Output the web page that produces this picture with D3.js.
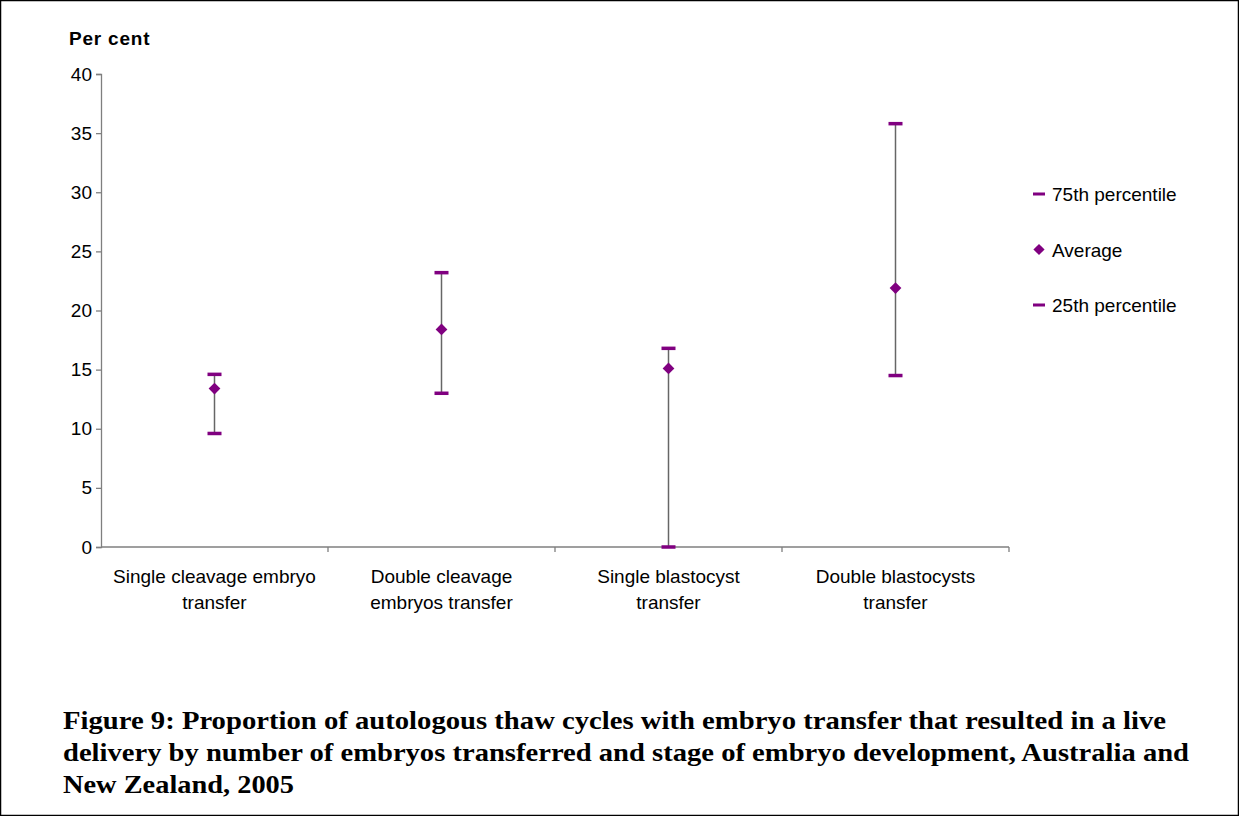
<!DOCTYPE html>
<html>
<head>
<meta charset="utf-8">
<script src="https://cdn.jsdelivr.net/npm/d3@7"></script>
<style>
  body { margin: 0; background: #fff; }
  svg { display: block; }
</style>
</head>
<body>
<script>
// chart data
var categories = [
  ["Single cleavage embryo", "transfer"],
  ["Double cleavage", "embryos transfer"],
  ["Single blastocyst", "transfer"],
  ["Double blastocysts", "transfer"]
];
var p75 = [14.6, 23.2, 16.8, 35.8];
var average = [13.4, 18.4, 15.1, 21.9];
var p25 = [9.6, 13.0, 0.0, 14.5];
var yTicks = [0, 5, 10, 15, 20, 25, 30, 35, 40];
var legendLabels = ["75th percentile", "Average", "25th percentile"];
var titleLines = [
  "Figure 9: Proportion of autologous thaw cycles with embryo transfer that resulted in a live",
  "delivery by number of embryos transferred and stage of embryo development, Australia and",
  "New Zealand, 2005"
];
var titleWidths = [1103, 1126, 231];

var svgWidth = 1239;
var svgHeight = 816;
var purple = "#800080";
var axisGrey = "#7f7f7f";
var sans = "Liberation Sans, Arial, sans-serif";

var margin = { top: 74, left: 101 };
var width = 908;
var height = 473;

var svg = d3.select("body")
  .append("svg")
  .attr("width", svgWidth)
  .attr("height", svgHeight);

// outer frame
svg.append("rect")
  .attr("x", 0.5).attr("y", 0.5)
  .attr("width", svgWidth - 1).attr("height", svgHeight - 1)
  .attr("fill", "none").attr("stroke", "#000").attr("stroke-width", 1.5);

var chart = svg.append("g")
  .attr("transform", `translate(${margin.left}, ${margin.top})`);

var idx = categories.map((d, i) => i);
var x = d3.scaleBand().domain(idx).range([0, width]);
var y = d3.scaleLinear().domain([0, 40]).range([height, 0]);

// y axis
var yAxis = d3.axisLeft(y).tickValues(yTicks).tickSize(5).tickPadding(4);
var yg = chart.append("g").call(yAxis);
yg.select(".domain").attr("stroke", axisGrey).attr("stroke-width", 1.3);
yg.selectAll(".tick line").attr("stroke", axisGrey).attr("stroke-width", 1.3);
yg.selectAll(".tick text")
  .style("font-family", sans)
  .style("font-size", "19px")
  .attr("fill", "#000");

// x axis: ticks at category boundaries
var xg = chart.append("g").attr("transform", `translate(0, ${height})`);
xg.append("line")
  .attr("x1", 0).attr("x2", width)
  .attr("stroke", axisGrey).attr("stroke-width", 1.3);
xg.selectAll(".xtick")
  .data(idx)
  .enter()
  .append("line")
  .attr("x1", d => x(d) + x.bandwidth())
  .attr("x2", d => x(d) + x.bandwidth())
  .attr("y1", 0).attr("y2", 5)
  .attr("stroke", axisGrey).attr("stroke-width", 1.3);

var labels = xg.selectAll(".xlab")
  .data(categories)
  .enter()
  .append("text")
  .attr("x", (d, i) => x(i) + x.bandwidth() / 2)
  .attr("y", 36)
  .attr("text-anchor", "middle")
  .style("font-family", sans)
  .style("font-size", "19px")
  .attr("fill", "#000");
labels.selectAll("tspan")
  .data(d => d)
  .enter()
  .append("tspan")
  .attr("x", function () { return d3.select(this.parentNode).attr("x"); })
  .attr("dy", (d, i) => i === 0 ? 0 : 26)
  .text(d => d);

// whiskers
var cx = i => x(i) + x.bandwidth() / 2;
chart.selectAll(".whisker")
  .data(idx)
  .enter()
  .append("line")
  .attr("x1", cx).attr("x2", cx)
  .attr("y1", i => y(p75[i]))
  .attr("y2", i => y(p25[i]))
  .attr("stroke", "#666").attr("stroke-width", 1.5);

// caps
function caps(values) {
  chart.selectAll(null)
    .data(idx)
    .enter()
    .append("rect")
    .attr("x", i => cx(i) - 7)
    .attr("y", i => y(values[i]) - 1.75)
    .attr("width", 14)
    .attr("height", 3.5)
    .attr("fill", purple);
}
caps(p75);
caps(p25);

// average diamonds
var diamond = d3.symbol().type(d3.symbolDiamond2).size(88);
chart.selectAll(".avg")
  .data(idx)
  .enter()
  .append("path")
  .attr("d", diamond)
  .attr("transform", i => `translate(${cx(i)}, ${y(average[i])})`)
  .attr("fill", purple);

// y axis title
svg.append("text")
  .attr("x", 69).attr("y", 45)
  .style("font-family", sans)
  .style("font-size", "19px")
  .style("font-weight", "bold")
  .style("letter-spacing", "0.8px")
  .text("Per cent");

// legend
var legend = svg.append("g").attr("transform", "translate(1039, 194)");
legendLabels.forEach(function (lab, i) {
  var g = legend.append("g").attr("transform", `translate(0, ${i * 55.5})`);
  if (i === 1) {
    g.append("path")
      .attr("d", d3.symbol().type(d3.symbolDiamond2).size(80))
      .attr("fill", purple);
  } else {
    g.append("rect")
      .attr("x", -6).attr("y", -1.5)
      .attr("width", 12).attr("height", 3)
      .attr("fill", purple);
  }
  g.append("text")
    .attr("x", 13).attr("y", 7)
    .style("font-family", sans)
    .style("font-size", "19px")
    .text(lab);
});

// caption
svg.append("g").selectAll("text")
  .data(titleLines)
  .enter()
  .append("text")
  .attr("x", 63)
  .attr("y", (d, i) => 729 + i * 32)
  .attr("textLength", (d, i) => titleWidths[i])
  .attr("lengthAdjust", "spacingAndGlyphs")
  .style("font-family", "Liberation Serif, serif")
  .style("font-size", "26px")
  .style("font-weight", "bold")
  .text(d => d);
</script>
</body>
</html>
